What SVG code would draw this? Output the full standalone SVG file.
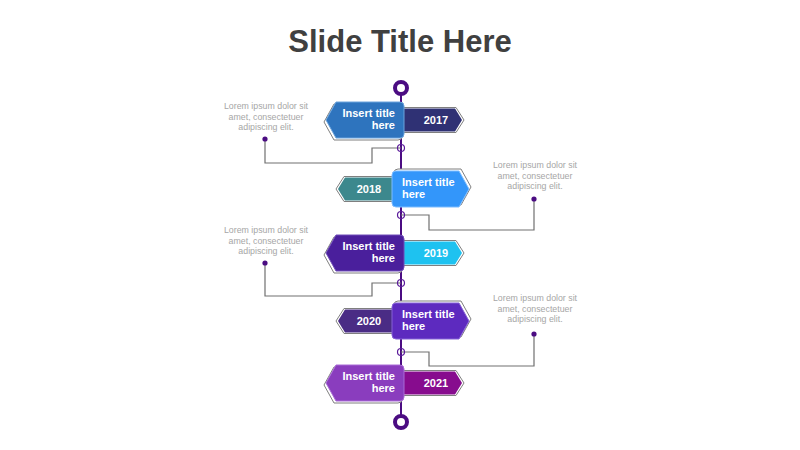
<svg xmlns="http://www.w3.org/2000/svg" width="800" height="450" viewBox="0 0 800 450">
<style>
.ttl{font-family:"Liberation Sans",Arial,sans-serif;font-weight:bold;font-size:31px;fill:#404040;text-anchor:middle}
.hd{font-family:"Liberation Sans",Arial,sans-serif;font-weight:bold;font-size:11px;fill:#ffffff}
.yr{font-family:"Liberation Sans",Arial,sans-serif;font-weight:bold;font-size:11px;fill:#ffffff;text-anchor:middle}
.lo{font-family:"Liberation Sans",Arial,sans-serif;font-size:8.8px;fill:#a6a6a6;text-anchor:middle}
.ol{fill:#ffffff;stroke:#7f7f7f;stroke-width:1}
.cn{fill:none;stroke:#707070;stroke-width:1.2}
.dot{fill:#4b0c82}
.knot{fill:none;stroke:#5a1a9a;stroke-width:1.2}
</style>
<defs>
<path id="tl" d="M336,-18 H400 Q404,-18 404,-14 V14 Q404,18 400,18 H336 L326,0 Z"/>
<path id="tr" d="M396,-18 H459 L469,0 L459,18 H396 Q392,18 392,14 V-14 Q392,-18 396,-18 Z"/>
<path id="tabR" d="M403,-11.5 H455 L462,0 L455,11.5 H403 Z"/>
<path id="tabRo" d="M403,-12.5 H456 L464,0 L456,12.5 H403 Z"/>
<path id="tabL" d="M393,-11.5 H345 L338,0 L345,11.5 H393 Z"/>
<path id="tabLo" d="M393,-12.5 H344 L336,0 L344,12.5 H393 Z"/>
</defs>
<rect width="800" height="450" fill="#ffffff"/>
<text class="ttl" x="400" y="52">Slide Title Here</text>

<g id="connectors">
<line x1="401" y1="88" x2="401" y2="422" stroke="#4b0c82" stroke-width="2"/>
<polyline class="cn" points="401,148 372,148 372,163 265,163 265,139"/>
<polyline class="cn" points="401,215 429,215 429,230 534,230 534,199"/>
<polyline class="cn" points="401,283 372,283 372,296 265,296 265,263"/>
<polyline class="cn" points="401,352 429,352 429,366 534,366 534,334"/>
<circle class="knot" cx="401" cy="148" r="3.5"/>
<circle class="knot" cx="401" cy="215" r="3.5"/>
<circle class="knot" cx="401" cy="283" r="3.5"/>
<circle class="knot" cx="401" cy="352" r="3.5"/>
<circle class="dot" cx="265" cy="139" r="2.6"/>
<circle class="dot" cx="534" cy="199" r="2.6"/>
<circle class="dot" cx="265" cy="263" r="2.6"/>
<circle class="dot" cx="534" cy="334" r="2.6"/>
<circle cx="401" cy="88" r="6" fill="#ffffff" stroke="#4b0c82" stroke-width="4"/>
<circle cx="401" cy="422" r="6" fill="#ffffff" stroke="#4b0c82" stroke-width="4"/>
</g>

<g id="node2017" transform="translate(0,120)">
<use href="#tabRo" class="ol"/>
<use href="#tabR" fill="#2f3174"/>
<use href="#tl" class="ol" transform="translate(-2,2)"/>
<use href="#tl" fill="#2e74be" stroke="#6aa3dc" stroke-width="1"/>
<text class="hd" x="395" y="-3" text-anchor="end">Insert title</text>
<text class="hd" x="395" y="9" text-anchor="end">here</text>
<text class="yr" x="436" y="4">2017</text>
</g>
<text class="lo" x="266" y="109">Lorem ipsum dolor sit</text>
<text class="lo" x="266" y="120">amet, consectetuer</text>
<text class="lo" x="266" y="130">adipiscing elit.</text>

<g id="node2018" transform="translate(0,189)">
<use href="#tabLo" class="ol"/>
<use href="#tabL" fill="#3c888d"/>
<use href="#tr" class="ol" transform="translate(2,-2)"/>
<use href="#tr" fill="#3396fa" stroke="#7cbcff" stroke-width="1"/>
<text class="hd" x="402" y="-3">Insert title</text>
<text class="hd" x="402" y="9">here</text>
<text class="yr" x="369" y="4">2018</text>
</g>
<text class="lo" x="535" y="168">Lorem ipsum dolor sit</text>
<text class="lo" x="535" y="179">amet, consectetuer</text>
<text class="lo" x="535" y="189">adipiscing elit.</text>

<g id="node2019" transform="translate(0,253)">
<use href="#tabRo" class="ol"/>
<use href="#tabR" fill="#1ec2f0"/>
<use href="#tl" class="ol" transform="translate(-2,2)"/>
<use href="#tl" fill="#4a1f9c" stroke="#6f4cb8" stroke-width="1"/>
<text class="hd" x="395" y="-3" text-anchor="end">Insert title</text>
<text class="hd" x="395" y="9" text-anchor="end">here</text>
<text class="yr" x="436" y="4">2019</text>
</g>
<text class="lo" x="266" y="233">Lorem ipsum dolor sit</text>
<text class="lo" x="266" y="244">amet, consectetuer</text>
<text class="lo" x="266" y="254">adipiscing elit.</text>

<g id="node2020" transform="translate(0,321)">
<use href="#tabLo" class="ol"/>
<use href="#tabL" fill="#4a2c85"/>
<use href="#tr" class="ol" transform="translate(2,-2)"/>
<use href="#tr" fill="#5d2abf" stroke="#8560d6" stroke-width="1"/>
<text class="hd" x="402" y="-3">Insert title</text>
<text class="hd" x="402" y="9">here</text>
<text class="yr" x="369" y="4">2020</text>
</g>
<text class="lo" x="535" y="301">Lorem ipsum dolor sit</text>
<text class="lo" x="535" y="312">amet, consectetuer</text>
<text class="lo" x="535" y="322">adipiscing elit.</text>

<g id="node2021" transform="translate(0,383)">
<use href="#tabRo" class="ol"/>
<use href="#tabR" fill="#870c8e"/>
<use href="#tl" class="ol" transform="translate(-2,2)"/>
<use href="#tl" fill="#8a3dbe" stroke="#a86bd6" stroke-width="1"/>
<text class="hd" x="395" y="-3" text-anchor="end">Insert title</text>
<text class="hd" x="395" y="9" text-anchor="end">here</text>
<text class="yr" x="436" y="4">2021</text>
</g>
</svg>
